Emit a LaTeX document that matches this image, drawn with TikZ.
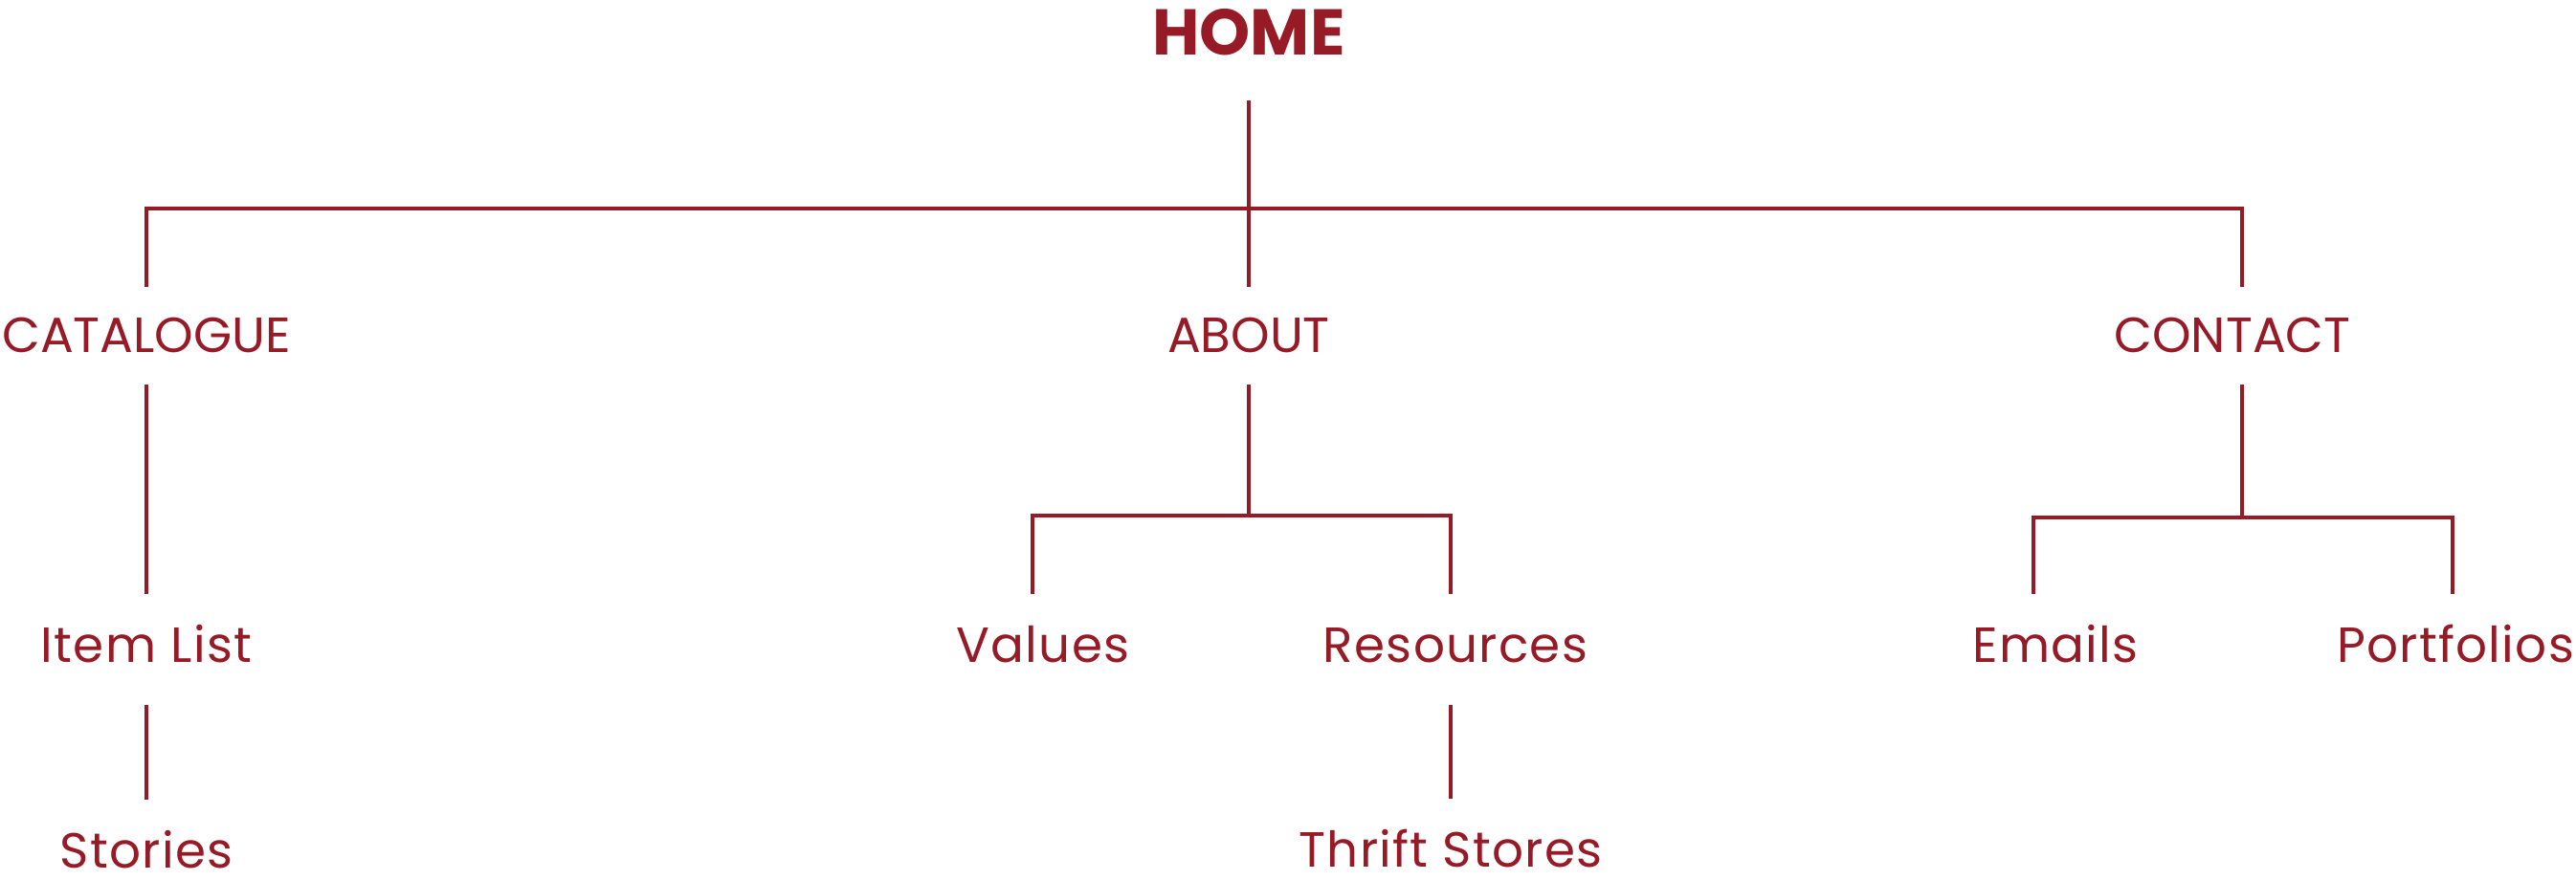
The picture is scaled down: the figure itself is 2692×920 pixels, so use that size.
\documentclass[tikz,border=0pt]{standalone}
\usepackage{fontspec}
\setmainfont{Poppins}
\usetikzlibrary{positioning}
\definecolor{sitered}{HTML}{961B27}

\begin{document}
\begin{tikzpicture}[x=0.5pt,y=-0.5pt,
    every node/.style={text=sitered, inner xsep=0pt, anchor=base},
    rootpage/.style={font=\fontsize{33.8}{40}\selectfont\bfseries, text height=24pt, text depth=0pt, inner ysep=23.5pt},
    mainpage/.style={font=\fontsize{25.8}{30}\selectfont, text height=18pt, text depth=1pt, inner ysep=16pt},
    subpage/.style={font=\fontsize{25.8}{30}\selectfont\addfontfeatures{LetterSpace=2.5}, text height=18pt, text depth=5pt, inner ysep=17.5pt},
    link/.style={draw=sitered, line width=1.9pt}]
    \useasboundingbox (0,0) rectangle (2692,920);

    % pages
    \node[rootpage] (home) at (1305,58) {HOME};
    \node[mainpage] (catalogue) at (153,368) {CATALOGUE};
    \node[mainpage] (about) at (1305,368) {ABOUT};
    \node[mainpage] (contact) at (2333,368) {CONTACT};
    \node[subpage] (itemlist) at (153,692) {Item List};
    \node[subpage] (values) at (1090,692) {Values};
    \node[subpage] (resources) at (1521,692) {Resources};
    \node[subpage] (emails) at (2148,692) {Emails};
    \node[subpage] (portfolios) at (2566,692) {Portfolios};
    \node[subpage] (stories) at (153,907) {Stories};
    \node[subpage] (thrift) at (1516,906) {Thrift Stores};

    % branches
    \coordinate (mainbar) at (1305,218);
    \coordinate (aboutbar) at (1305,539);
    \coordinate (contactbar) at (2343,541);

    \draw[link] (home.south) -- (about.north);
    \draw[link] (catalogue.north) |- (mainbar) -| ([xshift=5pt]contact.north);

    \draw[link] (catalogue.south) -- (itemlist.north);
    \draw[link] (itemlist.south) -- (stories.north);

    \draw[link] (about.south) -- (aboutbar);
    \draw[link] ([xshift=-5.5pt]values.north) |- (aboutbar) -| ([xshift=-2.5pt]resources.north);
    \draw[link] ([xshift=-2.5pt]resources.south) -- (thrift.north);

    \draw[link] ([xshift=5pt]contact.south) -- (contactbar);
    \draw[link] ([xshift=-11.5pt]emails.north) |- (contactbar) -| ([xshift=-1.5pt]portfolios.north);

\end{tikzpicture}
\end{document}
